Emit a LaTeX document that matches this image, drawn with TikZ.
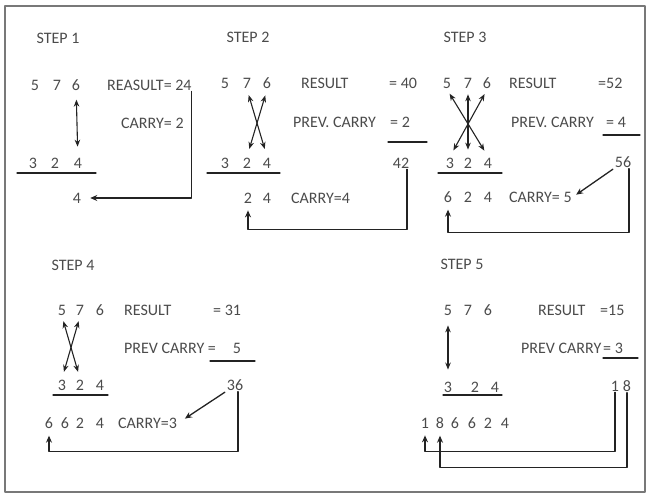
\documentclass[tikz,border=0pt]{standalone}
\usepackage{fontspec}
\setmainfont{Carlito}
\usetikzlibrary{arrows.meta}

\definecolor{txtc}{RGB}{75,75,75}
\definecolor{linec}{RGB}{35,35,35}
\definecolor{framec}{RGB}{120,120,120}

\tikzset{
  dig/.style={text=txtc,inner sep=1pt,font=\fontsize{16}{19}\selectfont},
  lbl/.style={dig,anchor=west},
  link/.style={draw=linec,line width=1.3pt,-{Stealth[length=7pt,width=6pt]}},
  both/.style={draw=linec,line width=1.1pt,{Stealth[length=7pt,width=5.5pt]}-{Stealth[length=7pt,width=5.5pt]}},
  rule/.style={draw=linec,line width=1.2pt}
}

\begin{document}
\begin{tikzpicture}[x=1pt,y=-1pt,line cap=round,line join=round]
\useasboundingbox (0,0) rectangle (649,495);

% frame
\draw[framec,line width=2pt] (5,6) rectangle (645,492);

% step 1
\node[dig] (st1) at (58,38) {STEP 1};
\node[dig] (s1t1) at (35,85) {5};
\node[dig] (s1t2) at (57,85) {7};
\node[dig] (s1t3) at (76,85) {6};
\node[lbl] (res1) at (106,85) {REASULT= 24};
\node[lbl] (car1) at (120,123) {CARRY= 2};
\node[dig] (s1b1) at (33,163) {3};
\node[dig] (s1b2) at (55,163) {2};
\node[dig] (s1b3) at (78,163) {4};
\node[dig] (s1a3) at (77,198) {4};
\draw[rule] (17,173) -- (96,173);
\draw[both,shorten <=8pt,shorten >=10pt] (s1t3) -- (s1b3);
\draw[link,shorten >=8pt] ([xshift=-1pt]res1.south east) |- (s1a3.east);

% step 2
\node[dig] (st2) at (248,37) {STEP 2};
\node[dig] (s2t1) at (225,83) {5};
\node[dig] (s2t2) at (247,83) {7};
\node[dig] (s2t3) at (267,83) {6};
\node[lbl] (res2) at (300,83) {RESULT};
\node[lbl] (eq2) at (388,83) {= 40};
\node[lbl] (pc2) at (292,122) {PREV. CARRY};
\node[lbl] (pv2) at (389,122) {= 2};
\node[dig] (s2b1) at (225,163) {3};
\node[dig] (s2b2) at (247,163) {2};
\node[dig] (s2b3) at (267,163) {4};
\node[dig] (s2r) at (401,163) {42};
\node[dig] (s2a2) at (248,198) {2};
\node[dig] (s2a3) at (267,198) {4};
\node[lbl] (car2) at (290,198) {CARRY=4};
\draw[rule] (388,142) -- (427,142);
\draw[rule] (207,173) -- (280,173);
\draw[both,shorten <=6pt,shorten >=8pt] (s2t2.south) -- (s2b3.north);
\draw[both,shorten <=6pt,shorten >=8pt] (s2t3.south) -- (s2b2.north);
\draw[link,shorten >=6pt] ([xshift=6pt]s2r.south) -- ++(0,60) -| (s2a2.south);

% step 3
\node[dig] (st3) at (465,37) {STEP 3};
\node[dig] (s3t1) at (447,83) {5};
\node[dig] (s3t2) at (468,83) {7};
\node[dig] (s3t3) at (487,83) {6};
\node[lbl] (res3) at (508,83) {RESULT};
\node[lbl] (eq3) at (597,83) {=52};
\node[lbl] (pc3) at (510,122) {PREV. CARRY};
\node[lbl] (pv3) at (605,122) {= 4};
\node[dig] (s3b1) at (450,163) {3};
\node[dig] (s3b2) at (468,163) {2};
\node[dig] (s3b3) at (488,163) {4};
\node[dig] (s3r) at (623,162) {56};
\node[dig] (s3a1) at (448,197) {6};
\node[dig] (s3a2) at (468,197) {2};
\node[dig] (s3a3) at (488,197) {4};
\node[lbl] (car3) at (508,197) {CARRY= 5};
\draw[rule] (603,135) -- (640,135);
\draw[rule] (438,173) -- (502,173);
\draw[both,shorten <=5pt,shorten >=7pt] (s3t1.south) -- (s3b3.north);
\draw[both,shorten <=5pt,shorten >=7pt] (s3t3.south) -- (s3b1.north);
\draw[both,shorten <=5pt,shorten >=7pt] (s3t2.south) -- (s3b2.north);
\draw[link,shorten <=1pt,shorten >=4pt] (s3r.south west) -- (car3.east);
\draw[link,shorten >=6pt] ([xshift=6pt]s3r.south) -- ++(0,64) -| (s3a1.south);

% step 4
\node[dig] (st4) at (73,265) {STEP 4};
\node[dig] (s4t1) at (62,310) {5};
\node[dig] (s4t2) at (80,310) {7};
\node[dig] (s4t3) at (100,310) {6};
\node[lbl] (res4) at (123,310) {RESULT};
\node[lbl] (eq4) at (212,310) {= 31};
\node[lbl] (pc4) at (123,348) {PREV CARRY =};
\node[dig] (pv4) at (237,348) {5};
\node[dig] (s4b1) at (62,385) {3};
\node[dig] (s4b2) at (80,385) {2};
\node[dig] (s4b3) at (100,385) {4};
\node[dig] (s4r) at (235,385) {36};
\node[dig] (s4a1) at (49,423) {6};
\node[dig] (s4a2) at (65,423) {6};
\node[dig] (s4a3) at (80,423) {2};
\node[dig] (s4a4) at (100,423) {4};
\node[lbl] (car4) at (117,423) {CARRY=3};
\draw[rule] (210,361) -- (255,361);
\draw[rule] (53,395) -- (108,395);
\draw[both,shorten <=5pt,shorten >=7pt] (s4t1.south) -- (s4b2.north);
\draw[both,shorten <=5pt,shorten >=7pt] (s4t2.south) -- (s4b1.north);
\draw[link,shorten <=1pt,shorten >=8pt] (s4r.south west) -- (car4.east);
\draw[link,shorten >=6pt] ([xshift=3pt]s4r.south) -- ++(0,60) -| (s4a1.south);

% step 5
\node[dig] (st5) at (462,264) {STEP 5};
\node[dig] (s5t1) at (448,310) {5};
\node[dig] (s5t2) at (468,310) {7};
\node[dig] (s5t3) at (488,310) {6};
\node[lbl] (res5) at (537,310) {RESULT};
\node[lbl] (eq5) at (599,310) {=15};
\node[lbl] (pc5) at (520,348) {PREV CARRY};
\node[lbl] (pv5) at (602,348) {= 3};
\node[dig] (s5b1) at (448,387) {3};
\node[dig] (s5b2) at (475,387) {2};
\node[dig] (s5b3) at (495,387) {4};
\node[dig] (s5r1) at (615,386) {1};
\node[dig] (s5r2) at (627,386) {8};
\node[dig] (s5a1) at (425,423) {1};
\node[dig] (s5a2) at (440,423) {8};
\node[dig] (s5a3) at (455,423) {6};
\node[dig] (s5a4) at (472,423) {6};
\node[dig] (s5a5) at (488,423) {2};
\node[dig] (s5a6) at (505,423) {4};
\draw[rule] (603,358) -- (638,358);
\draw[rule] (443,395) -- (502,395);
\draw[both,shorten <=9pt,shorten >=11pt] (s5t1) -- (s5b1);
\draw[link,shorten >=6pt] (s5r1.south) -- ++(0,59) -| (s5a1.south);
\draw[link,shorten >=6pt] (s5r2.south) -- ++(0,75) -| (s5a2.south);

\end{tikzpicture}
\end{document}
